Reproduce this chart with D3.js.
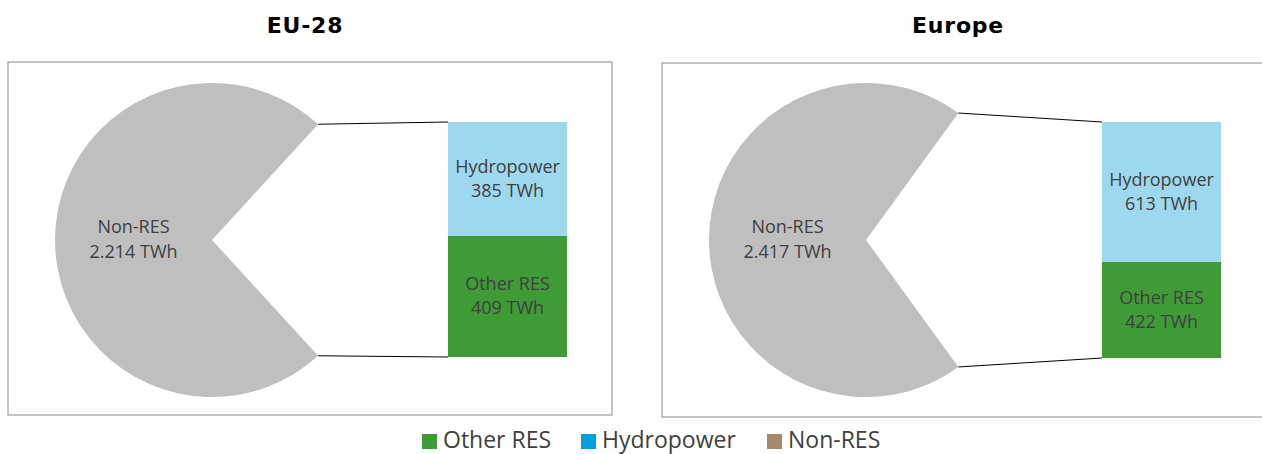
<!DOCTYPE html>
<html>
<head>
<meta charset="utf-8">
<script src="https://cdn.jsdelivr.net/npm/d3@7"></script>
<style>
  body { margin: 0; background: #fff; }
  svg { display: block; }
</style>
</head>
<body>
<svg width="1262" height="454"></svg>
<script>
// Data
let regions = ['EU-28', 'Europe']
let nonRes = [2214, 2417]
let hydropower = [385, 613]
let otherRes = [409, 422]
let nonResLabels = ['2.214 TWh', '2.417 TWh']

let legendNames = ['Other RES', 'Hydropower', 'Non-RES']
let legendColors = ['#3f9b35', '#00a0dc', '#a6896b']

let color = {
    pie: '#bfbfbf',
    hydro: '#9dd8ef',
    other: '#3f9b35',
    text: '#404040'
}

let svg = d3.select('svg')

// panel layout
let panels = [
    { frame: [8, 62, 604, 353], cx: 212, cy: 240, r: 157, barX: 448, barTop: 122, barBottom: 357, titleX: 305 },
    { frame: [662, 63, 620, 354], cx: 866, cy: 240, r: 157, barX: 1102, barTop: 122, barBottom: 358, titleX: 958 }
]
let barWidth = 119
let labelFont = '18px'

panels.forEach((p, i) => {
    let g = svg.append('g')

    g.append('rect')
        .attr('x', p.frame[0]).attr('y', p.frame[1])
        .attr('width', p.frame[2]).attr('height', p.frame[3])
        .attr('fill', 'none')
        .attr('stroke', '#a6a6a6')
        .attr('stroke-width', 1.3)

    g.append('text')
        .attr('x', p.titleX).attr('y', 33)
        .attr('text-anchor', 'middle')
        .style('font-family', 'DejaVu Sans')
        .style('font-weight', 'bold')
        .style('font-size', '22px')
        .style('letter-spacing', '0.8px')
        .text(regions[i])

    let res = hydropower[i] + otherRes[i]
    let total = res + nonRes[i]
    let gap = res / total * 2 * Math.PI
    let start = Math.PI / 2 - gap / 2

    let pie = d3.pie().sort(null)
        .startAngle(start)
        .endAngle(start + 2 * Math.PI)
    let slices = pie([res, nonRes[i]])
    let arc = d3.arc().innerRadius(0).outerRadius(p.r)

    g.append('path')
        .attr('transform', `translate(${p.cx},${p.cy})`)
        .attr('d', arc(slices[1]))
        .attr('fill', color.pie)

    // label for Non-RES
    let lx = p.cx - p.r * 0.5
    g.append('text')
        .attr('x', lx).attr('y', p.cy - 7)
        .attr('text-anchor', 'middle')
        .style('font-family', 'Open Sans')
        .style('font-size', labelFont)
        .attr('fill', color.text)
        .text('Non-RES')
    g.append('text')
        .attr('x', lx).attr('y', p.cy + 18)
        .attr('text-anchor', 'middle')
        .style('font-family', 'Open Sans')
        .style('font-size', labelFont)
        .attr('fill', color.text)
        .text(nonResLabels[i])

    // stacked bar
    let y = d3.scaleLinear().domain([0, res]).range([p.barBottom, p.barTop])
    let segs = [
        { name: 'Other RES', v0: 0, v1: otherRes[i], fill: color.other },
        { name: 'Hydropower', v0: otherRes[i], v1: res, fill: color.hydro }
    ]
    segs.forEach(s => {
        g.append('rect')
            .attr('x', p.barX).attr('y', y(s.v1))
            .attr('width', barWidth).attr('height', y(s.v0) - y(s.v1))
            .attr('fill', s.fill)
        let mid = (y(s.v0) + y(s.v1)) / 2
        g.append('text')
            .attr('x', p.barX + barWidth / 2).attr('y', mid - 6)
            .attr('text-anchor', 'middle')
            .style('font-family', 'Open Sans')
            .style('font-size', labelFont)
            .attr('fill', color.text)
            .text(s.name)
        g.append('text')
            .attr('x', p.barX + barWidth / 2).attr('y', mid + 18)
            .attr('text-anchor', 'middle')
            .style('font-family', 'Open Sans')
            .style('font-size', labelFont)
            .attr('fill', color.text)
            .text(d3.format('d')(s.v1 - s.v0) + ' TWh')
    })

    // connector lines from pie edge to bar
    let a1 = slices[1].startAngle, a2 = slices[1].endAngle
    let pt = a => [p.cx + p.r * Math.sin(a), p.cy - p.r * Math.cos(a)]
    let top = pt(a2), bot = pt(a1)
    g.append('line')
        .attr('x1', top[0]).attr('y1', top[1])
        .attr('x2', p.barX).attr('y2', y(res))
        .attr('stroke', '#000').attr('stroke-width', 1)
    g.append('line')
        .attr('x1', bot[0]).attr('y1', bot[1])
        .attr('x2', p.barX).attr('y2', y(0))
        .attr('stroke', '#000').attr('stroke-width', 1)
})

// legend
let legendX = [422, 581, 767]
let legend = svg.append('g')
legendNames.forEach((n, i) => {
    legend.append('rect')
        .attr('x', legendX[i]).attr('y', 434)
        .attr('width', 15).attr('height', 15)
        .attr('fill', legendColors[i])
    legend.append('text')
        .attr('x', legendX[i] + 21).attr('y', 448)
        .style('font-family', 'Open Sans')
        .style('font-size', '23px')
        .attr('fill', color.text)
        .text(n)
})
</script>
</body>
</html>
